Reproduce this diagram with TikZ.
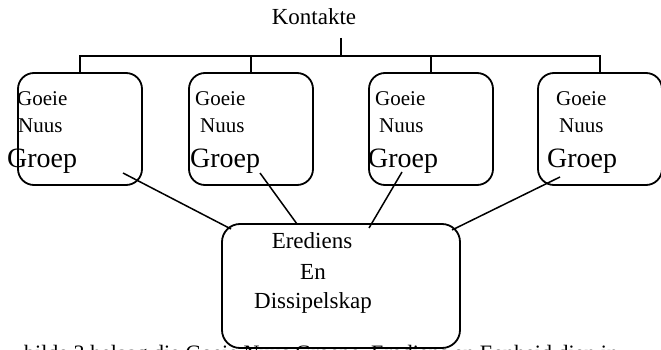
\documentclass[tikz,border=0pt]{standalone}
\usepackage{fontspec}
\setmainfont{Liberation Serif}
\usetikzlibrary{calc}

\begin{document}
\begin{tikzpicture}[x=1pt, y=-1pt,
    groep/.style={draw, line width=1.8pt, rounded corners=16pt, minimum width=124pt, minimum height=112pt, inner sep=0pt},
    diens/.style={draw, line width=1.8pt, rounded corners=18pt, minimum width=238pt, minimum height=124pt, inner sep=0pt},
    woord/.style={anchor=base west, inner sep=0pt, font=\fontsize{21}{24}\selectfont},
    groot/.style={anchor=base west, inner sep=0pt, font=\fontsize{28}{30}\selectfont},
    middel/.style={anchor=base, inner sep=0pt, font=\fontsize{23}{26}\selectfont},
    boom/.style={line width=1.8pt},
    lyn/.style={line width=1.5pt}]
    \useasboundingbox (0,0) rectangle (661,350);

    \node[middel](kontakte) at (314,25) {Kontakte};
    \coordinate(stam) at (341,38);
    \coordinate(tak) at (341,57);

    \node[groep](G_1) at (80,129) {};
    \node[groep](G_2) at (251,129) {};
    \node[groep](G_3) at (431,129) {};
    \node[groep](G_4) at (600,129) {};
    \node[diens](E) at (341,286) {};

    \draw[boom] (stam) -- (tak);
    \draw[boom] (G_1.north) -- ++(0,-16) -| (G_4.north);
    \draw[boom] (G_2.north) -- ++(0,-16);
    \draw[boom] (G_3.north) -- ++(0,-16);

    \node[woord](goeie_1) at (17,106) {Goeie};
    \node[woord](nuus_1) at (18,133) {Nuus};
    \node[groot](groep_1) at (7,167) {Groep};
    \node[woord](goeie_2) at (195,106) {Goeie};
    \node[woord](nuus_2) at (200,133) {Nuus};
    \node[groot](groep_2) at (190,167) {Groep};
    \node[woord](goeie_3) at (375,106) {Goeie};
    \node[woord](nuus_3) at (379,133) {Nuus};
    \node[groot](groep_3) at (368,167) {Groep};
    \node[woord](goeie_4) at (556,106) {Goeie};
    \node[woord](nuus_4) at (559,133) {Nuus};
    \node[groot](groep_4) at (547,167) {Groep};

    \node[middel](erediens) at (312,248) {Erediens};
    \node[middel](en) at (313,279) {En};
    \node[middel](dissipelskap) at (313,308) {Dissipelskap};

    \coordinate(s_1) at (123,173);
    \coordinate(e_1) at (231,229);
    \coordinate(s_2) at (260,173);
    \coordinate(e_2) at (297,224);
    \coordinate(s_3) at (402,172);
    \coordinate(e_3) at (369,228);
    \coordinate(s_4) at (560,177);
    \coordinate(e_4) at (452,230);
    \draw[lyn] (s_1) -- (e_1);
    \draw[lyn] (s_2) -- (e_2);
    \draw[lyn] (s_3) -- (e_3);
    \draw[lyn] (s_4) -- (e_4);

    \node[anchor=base west, inner sep=0pt, font=\fontsize{22}{24}\selectfont](onder) at (24,360) {bilde 3 helaag die Goeie Nuus Groepe, Erediens en Eenheid dien in};
\end{tikzpicture}
\end{document}
